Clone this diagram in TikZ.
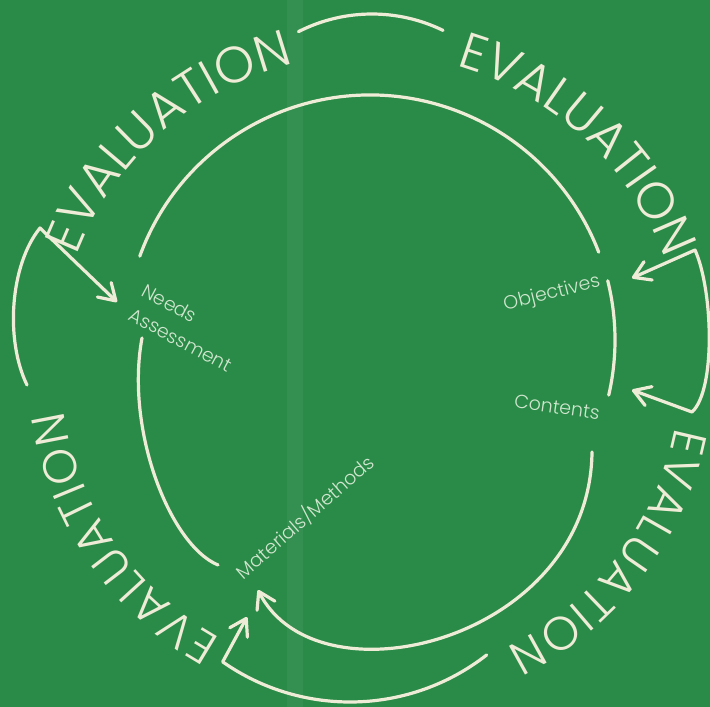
\documentclass[tikz,border=0pt]{standalone}
\usepackage{fontspec}
\setmainfont{Poppins}[UprightFont={* Light}]
\usetikzlibrary{arrows.meta,decorations.text}
\definecolor{BoardGreen}{RGB}{42,139,72}
\definecolor{Chalk}{RGB}{238,236,214}
\definecolor{ChalkDim}{RGB}{208,230,206}

\begin{document}
\begin{tikzpicture}[x=1pt,y=1pt,
  chalk/.style={draw=Chalk,line width=3.2pt,line cap=round,line join=round},
  arr/.style={chalk,-{Straight Barb[length=16pt,width=20pt,round]}},
  dblarr/.style={chalk,{Straight Barb[length=16pt,width=20pt,round]}-{Straight Barb[length=16pt,width=20pt,round]}},
  lbl/.style={text=ChalkDim,font=\fontsize{19}{27}\selectfont,inner sep=0pt,align=left},
  evaltext/.style={decorate,decoration={text along path,text align=fit to path,
    text={|\color{Chalk}\fontsize{#1}{#1}\selectfont|EVALUATION}}},
]
\useasboundingbox (0,0) rectangle (710,-707);
\fill[BoardGreen] (0,0) rectangle (710,-707);
\fill[white,opacity=0.05] (287,0) rectangle (303,-707);

\coordinate (hub) at (370,-368);
\path[evaltext=51] (hub) ++(159:314) arc[start angle=159,end angle=104,radius=314];
\path[evaltext=51] (hub) ++(74:314) arc[start angle=74,end angle=21,radius=314];
\path[evaltext=47] (hub) ++(-11:311) arc[start angle=-11,end angle=-64,radius=311];
\path[evaltext=47] (hub) ++(241:309) arc[start angle=241,end angle=188,radius=309];

\node[lbl,rotate=-28] (needs) at (187,-328) {Needs\\Assessment};
\node[lbl,rotate=14] (objectives) at (552,-294) {Objectives};
\node[lbl,rotate=-8] (contents) at (557,-407) {Contents};
\node[lbl,rotate=41] (methods) at (305,-517) {Materials/Methods};

\coordinate (loop) at (370,-340);
\coordinate (needsOut) at (142,-338);
\coordinate (methTop) at (218,-565);
\coordinate (contOut) at (592,-452);
\coordinate (methIn) at (258,-590);
\draw[chalk] ([shift={(160:245)}]loop) arc[start angle=160,end angle=21,radius=245];
\draw[chalk] ([shift={(14:245)}]loop) arc[start angle=14,end angle=-13,radius=245];
\draw[chalk] (needsOut) .. controls (125,-430) and (170,-545) .. (methTop);
\draw[arr] (contOut) .. controls (590,-640) and (318,-708) .. (methIn);

\coordinate (ring) at (372,-176);
\coordinate (lBot) at (27,-385);
\coordinate (lTop) at (40,-228);
\coordinate (needsIn) at (117,-302);
\coordinate (rTop) at (695,-250);
\coordinate (rBot) at (692,-412);
\coordinate (objIn) at (632,-278);
\coordinate (contIn) at (632,-390);
\coordinate (sag) at (350,-480);
\coordinate (methIn2) at (247,-617);
\draw[chalk] ([shift={(117:162)}]ring) arc[start angle=117,end angle=64,radius=162];
\draw[arr] (lBot) .. controls (5,-340) and (10,-265) .. (lTop) -- (needsIn);
\draw[dblarr] (objIn) -- (rTop) .. controls (713,-290) and (716,-390) .. (rBot) -- (contIn);
\draw[arr] ([shift={(-52:222)}]sag) arc[start angle=-52,end angle=-125,radius=222] -- (methIn2);
\end{tikzpicture}
\end{document}
